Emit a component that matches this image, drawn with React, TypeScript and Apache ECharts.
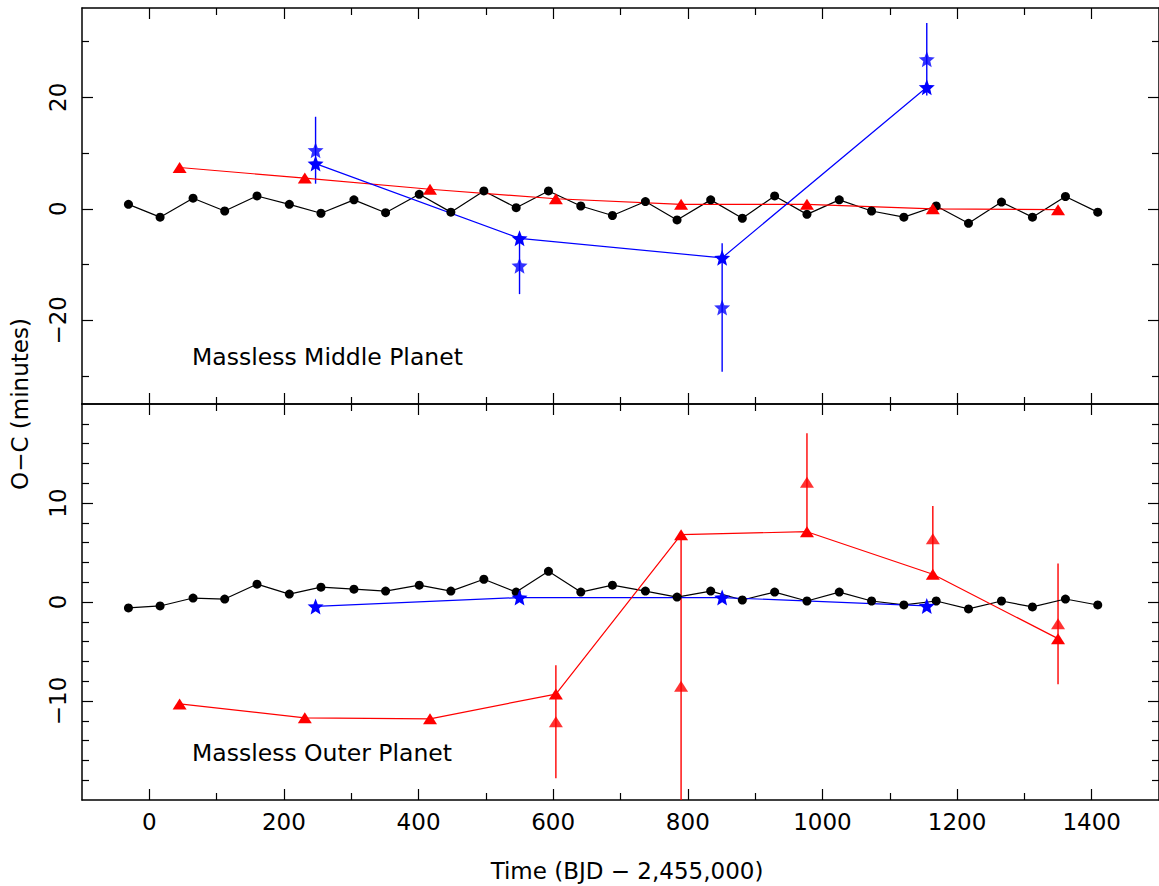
import React, { useEffect, useRef } from "react";
import * as echarts from "echarts";

// ---- data ----
const blackX = [-31, 16, 65, 112, 160, 208, 255, 304, 351, 401, 448, 497, 545, 593, 641, 688, 737, 784, 834, 881, 929, 977, 1025, 1073, 1121, 1169, 1217, 1266, 1312, 1361, 1409];
const blackTopY = [0.8, -1.5, 1.9, -0.4, 2.3, 0.8, -0.8, 1.6, -0.7, 2.6, -0.6, 3.2, 0.2, 3.2, 0.5, -1.2, 1.3, -2.0, 1.6, -1.7, 2.3, -1.0, 1.6, -0.4, -1.5, 0.5, -2.6, 1.2, -1.5, 2.2, -0.6];
const blackBottomY = [-0.6, -0.4, 0.4, 0.3, 1.8, 0.8, 1.5, 1.3, 1.1, 1.7, 1.1, 2.3, 1.0, 3.1, 1.0, 1.7, 1.1, 0.5, 1.1, 0.2, 1.0, 0.1, 1.0, 0.1, -0.3, 0.1, -0.7, 0.1, -0.5, 0.3, -0.3];

const redX = [45, 231, 417, 604, 790, 977, 1164, 1350];
const redTopY = [7.4, 5.5, 3.5, 1.8, 0.8, 0.8, 0.0, -0.15];
const redBottomModelY = [-10.3, -11.7, -11.8, -9.3, 6.8, 7.1, 2.8, -3.7];
const redBottomObsX = [604, 790, 977, 1164, 1350];
const redBottomObsY = [-12.1, -8.5, 12.1, 6.4, -2.2];
const redBottomErr = [5.7, 15.0, 4.95, 3.3, 6.1];

const blueX = [247, 550, 851, 1155];
const blueTopModelY = [8.1, -5.3, -8.8, 21.8];
const blueTopObsY = [10.5, -10.2, -17.7, 26.8];
const blueTopErr = [6.0, 5.1, 11.5, 6.5];
const blueBottomY = [-0.45, 0.45, 0.45, -0.4];

const xMajorTicks = [0, 200, 400, 600, 800, 1000, 1200, 1400];
const xMinorTicks = [100, 300, 500, 700, 900, 1100, 1300];
const topYMajor = [-20, 0, 20];
const topYMinor = [-30, -10, 10, 30];
const botYMajor = [-10, 0, 10];
const botYMinor = [-18, -16, -14, -12, -8, -6, -4, -2, 2, 4, 6, 8, 12, 14, 16, 18];

const FONT = "DejaVu Sans";
const STAR = "path://M50,0 L62.9,32.2 L97.6,34.5 L70.9,56.8 L79.4,90.5 L50,72 L20.6,90.5 L29.1,56.8 L2.4,34.5 L37.1,32.2 Z";
const fmt = (v: number) => (v < 0 ? "\u2212" + Math.abs(v) : String(v));

function xAxis(gridIndex: number, position: string, ticks: number[], len: number, line: boolean, labels: boolean) {
  return {
    type: "value", gridIndex, position, min: -100, max: 1500,
    axisLine: { show: line, onZero: false, lineStyle: { color: "#000", width: 1.5 } },
    axisTick: { show: true, inside: true, length: len, customValues: ticks, lineStyle: { color: "#000", width: 1.2 } },
    axisLabel: labels
      ? { show: true, customValues: ticks, formatter: fmt, fontFamily: FONT, fontSize: 23, color: "#000", margin: 10 }
      : { show: false },
    splitLine: { show: false },
  };
}
function yAxis(gridIndex: number, position: string, min: number, max: number, ticks: number[], len: number, line: boolean, labels: boolean) {
  return {
    type: "value", gridIndex, position, min, max,
    axisLine: { show: line, onZero: false, lineStyle: { color: "#000", width: 1.5 } },
    axisTick: { show: true, inside: true, length: len, customValues: ticks, lineStyle: { color: "#000", width: 1.2 } },
    axisLabel: labels
      ? { show: true, customValues: ticks, formatter: fmt, rotate: 90, fontFamily: FONT, fontSize: 23, color: "#000", margin: 13 }
      : { show: false },
    splitLine: { show: false },
  };
}

function errBars(color: string) {
  return (params: any, api: any) => {
    const x = api.value(0), y = api.value(1), e = api.value(2);
    const p1 = api.coord([x, y - e]);
    const p2 = api.coord([x, y + e]);
    const cs = params.coordSys;
    const clamp = (v: number) => Math.max(cs.y, Math.min(cs.y + cs.height, v));
    return {
      type: "line",
      shape: { x1: p1[0], y1: clamp(p1[1]), x2: p2[0], y2: clamp(p2[1]) },
      style: { stroke: color, lineWidth: 1.4 },
    };
  };
}

const zip = (xs: number[], ys: number[]) => xs.map((x, i) => [x, ys[i]]);

export default function App() {
  const ref = useRef<HTMLDivElement>(null);
  useEffect(() => {
    const chart = echarts.init(ref.current!, null, { renderer: "svg" });
    const lineBase = { type: "line", showSymbol: true, animation: false };
    chart.setOption({
      animation: false,
      backgroundColor: "#fff",
      grid: [
        { left: 82, top: 8, width: 1078, height: 396 },
        { left: 82, top: 404, width: 1078, height: 396 },
      ],
      xAxis: [
        xAxis(0, "bottom", xMajorTicks, 11, true, false),
        xAxis(0, "bottom", xMinorTicks, 7, false, false),
        xAxis(0, "top", xMajorTicks, 11, true, false),
        xAxis(0, "top", xMinorTicks, 7, false, false),
        xAxis(1, "bottom", xMajorTicks, 11, true, true),
        xAxis(1, "bottom", xMinorTicks, 7, false, false),
        xAxis(1, "top", xMajorTicks, 11, true, false),
        xAxis(1, "top", xMinorTicks, 7, false, false),
      ],
      yAxis: [
        yAxis(0, "left", -35, 36, topYMajor, 11, true, true),
        yAxis(0, "left", -35, 36, topYMinor, 7, false, false),
        yAxis(0, "right", -35, 36, topYMajor, 11, true, false),
        yAxis(0, "right", -35, 36, topYMinor, 7, false, false),
        yAxis(1, "left", -20, 20, botYMajor, 11, true, true),
        yAxis(1, "left", -20, 20, botYMinor, 7, false, false),
        yAxis(1, "right", -20, 20, botYMajor, 11, true, false),
        yAxis(1, "right", -20, 20, botYMinor, 7, false, false),
      ],
      series: [
        // top panel
        { ...lineBase, xAxisIndex: 0, yAxisIndex: 0, data: zip(blackX, blackTopY), symbol: "circle", symbolSize: 9,
          itemStyle: { color: "#000" }, lineStyle: { color: "#000", width: 1.2 } },
        { ...lineBase, xAxisIndex: 0, yAxisIndex: 0, data: zip(redX, redTopY), symbol: "triangle", symbolSize: [14, 11],
          itemStyle: { color: "#ff0000" }, lineStyle: { color: "#ff0000", width: 1.2 } },
        { type: "custom", xAxisIndex: 0, yAxisIndex: 0, renderItem: errBars("#0000ff"),
          data: blueX.map((x, i) => [x, blueTopObsY[i], blueTopErr[i]]), clip: true },
        { ...lineBase, xAxisIndex: 0, yAxisIndex: 0, data: zip(blueX, blueTopModelY), symbol: STAR, symbolSize: 16,
          itemStyle: { color: "#0000ff" }, lineStyle: { color: "#0000ff", width: 1.2 } },
        { type: "scatter", xAxisIndex: 0, yAxisIndex: 0, data: zip(blueX, blueTopObsY), symbol: STAR, symbolSize: 16,
          itemStyle: { color: "#0000ff" } },
        // bottom panel
        { ...lineBase, xAxisIndex: 4, yAxisIndex: 4, data: zip(blackX, blackBottomY), symbol: "circle", symbolSize: 9,
          itemStyle: { color: "#000" }, lineStyle: { color: "#000", width: 1.2 } },
        { ...lineBase, xAxisIndex: 4, yAxisIndex: 4, data: zip(blueX, blueBottomY), symbol: STAR, symbolSize: 16,
          itemStyle: { color: "#0000ff" }, lineStyle: { color: "#0000ff", width: 1.2 } },
        { type: "custom", xAxisIndex: 4, yAxisIndex: 4, renderItem: errBars("#ff0000"),
          data: redBottomObsX.map((x, i) => [x, redBottomObsY[i], redBottomErr[i]]), clip: true },
        { ...lineBase, xAxisIndex: 4, yAxisIndex: 4, data: zip(redX, redBottomModelY), symbol: "triangle", symbolSize: [14, 11],
          itemStyle: { color: "#ff0000" }, lineStyle: { color: "#ff0000", width: 1.2 } },
        { type: "scatter", xAxisIndex: 4, yAxisIndex: 4, data: zip(redBottomObsX, redBottomObsY), symbol: "triangle", symbolSize: [14, 11],
          itemStyle: { color: "#ff0000" } },
      ],
      graphic: [
        { type: "text", left: 192, top: 345, style: { text: "Massless Middle Planet", fontFamily: FONT, fontSize: 23.5, fill: "#000" } },
        { type: "text", left: 192, top: 741, style: { text: "Massless Outer Planet", fontFamily: FONT, fontSize: 23.5, fill: "#000" } },
        { type: "text", x: 20, y: 404, rotation: Math.PI / 2,
          style: { text: "O\u2212C (minutes)", fontFamily: FONT, fontSize: 23, fill: "#000", align: "center", verticalAlign: "middle" } },
        { type: "text", x: 627, y: 871,
          style: { text: "Time (BJD \u2212 2,455,000)", fontFamily: FONT, fontSize: 23, fill: "#000", align: "center", verticalAlign: "middle" } },
      ],
    });
    return () => chart.dispose();
  }, []);
  return <div ref={ref} style={{ position: "fixed", left: 0, top: 0, width: 1159, height: 886 }} />;
}
